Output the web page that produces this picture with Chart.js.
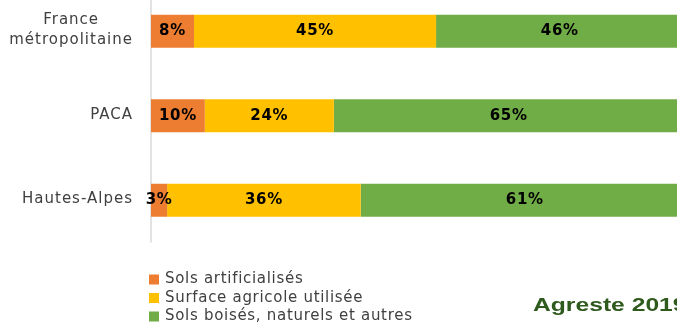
<!DOCTYPE html>
<html>
<head>
<meta charset="utf-8">
<script src="https://cdn.jsdelivr.net/npm/chart.js@4"></script>
<style>
  html, body { margin: 0; padding: 0; background: #fff; overflow: hidden; width: 677px; height: 324px; }
  #wrap { position: absolute; left: 0; top: -11px; width: 677px; height: 335px; }
</style>
</head>
<body>
<div id="wrap"><canvas id="c"></canvas></div>
<script>
// Occupation des sols (% de la surface)
const categories = [['France', 'métropolitaine'], 'PACA', 'Hautes-Alpes'];
const seriesNames = ['Sols artificialisés', 'Surface agricole utilisée', 'Sols boisés, naturels et autres'];
const artificialises = [8, 10, 3];
const agricole = [45, 24, 36];
const boises = [46, 65, 61];
const seriesColors = ['#ED7D31', '#FFC000', '#70AD47'];
const sourceLabel = 'Agreste 2019';

const seriesValues = [artificialises, agricole, boises];

const labelFont = '"DejaVu Sans", sans-serif';

const drawPlugin = {
  id: 'occupationDecor',
  beforeDatasetsDraw(chart) {
    const { ctx, chartArea } = chart;
    ctx.save();
    ctx.strokeStyle = '#d9d9d9';
    ctx.lineWidth = 1.5;
    ctx.beginPath();
    ctx.moveTo(chartArea.left, chartArea.top);
    ctx.lineTo(chartArea.left, chartArea.bottom);
    ctx.stroke();
    ctx.restore();
  },
  afterDatasetsDraw(chart) {
    const { ctx, chartArea } = chart;
    const yScale = chart.scales.y;
    ctx.save();

    // category labels (multi-line labels centred as a block)
    ctx.fillStyle = '#404040';
    ctx.font = '15px ' + labelFont;
    ctx.letterSpacing = '1px';
    ctx.textBaseline = 'middle';
    const right = chartArea.left - 18;
    categories.forEach((cat, i) => {
      const y = yScale.getPixelForValue(i) - 1;
      const lines = Array.isArray(cat) ? cat : [cat];
      const maxW = Math.max(...lines.map(l => ctx.measureText(l).width));
      const lh = 20;
      const y0 = y - (lines.length - 1) * lh / 2;
      ctx.textAlign = 'center';
      lines.forEach((l, k) => {
        ctx.fillText(l, right - maxW / 2, y0 + k * lh);
      });
    });

    // value labels centred in each segment
    ctx.fillStyle = '#000';
    ctx.font = 'bold 15px ' + labelFont;
    ctx.letterSpacing = '0.7px';
    ctx.textAlign = 'center';
    chart.data.datasets.forEach((ds, di) => {
      const meta = chart.getDatasetMeta(di);
      meta.data.forEach((bar, i) => {
        const p = bar.getProps(['x', 'y', 'base'], true);
        ctx.fillText(ds.data[i] + '%', (p.x + p.base) / 2, p.y);
      });
    });

    // legend
    ctx.font = '15px ' + labelFont;
    ctx.letterSpacing = '0.7px';
    ctx.textAlign = 'left';
    const ly0 = chartArea.bottom + 37;
    chart.data.datasets.forEach((ds, di) => {
      const cy = ly0 + di * 18.5;
      ctx.fillStyle = ds.backgroundColor;
      ctx.fillRect(chartArea.left - 2, cy - 5, 10, 10);
      ctx.fillStyle = '#404040';
      ctx.fillText(ds.label, chartArea.left + 14, cy);
    });

    // source
    ctx.letterSpacing = '0px';
    ctx.fillStyle = '#2F5A1E';
    ctx.font = 'bold 18px "Liberation Sans", Arial, sans-serif';
    ctx.textBaseline = 'alphabetic';
    ctx.translate(533, chartArea.bottom + 68.5);
    ctx.scale(1.37, 1);
    ctx.fillText(sourceLabel, 0, 0);
    ctx.restore();
  }
};

new Chart(document.getElementById('c'), {
  type: 'bar',
  data: {
    labels: categories,
    datasets: seriesNames.map((name, i) => ({
      label: name,
      data: seriesValues[i],
      backgroundColor: seriesColors[i],
      borderWidth: 0,
      barPercentage: 0.39,
      categoryPercentage: 1
    }))
  },
  options: {
    indexAxis: 'y',
    responsive: true,
    maintainAspectRatio: false,
    animation: false,
    layout: { padding: { left: 151, right: 0, top: 0, bottom: 81.5 } },
    scales: {
      x: { stacked: true, min: 0, max: 97.8, display: false },
      y: { stacked: true, display: false, offset: true }
    },
    plugins: {
      legend: { display: false },
      tooltip: { enabled: false }
    }
  },
  plugins: [drawPlugin]
});
</script>
</body>
</html>
